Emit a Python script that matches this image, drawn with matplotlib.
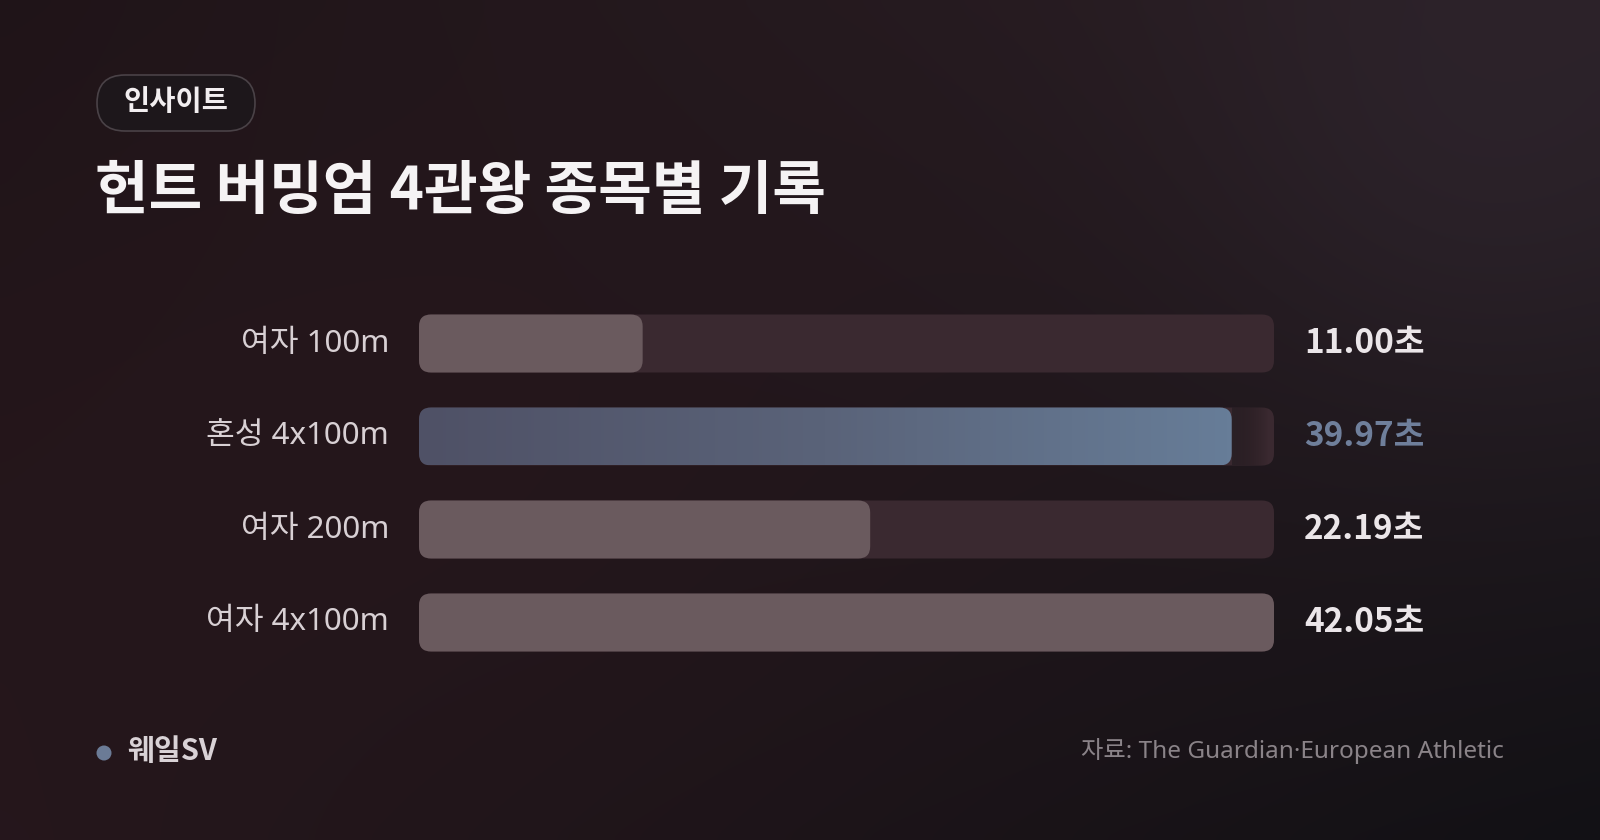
import numpy as np
import matplotlib
matplotlib.use("Agg")
import matplotlib.pyplot as plt
from matplotlib.patches import FancyBboxPatch, Circle
from matplotlib.colors import LinearSegmentedColormap, to_rgb

plt.rcParams['font.family'] = ['Noto Sans CJK KR', 'DejaVu Sans']

# ---- data ----
categories = ["여자 100m", "혼성 4x100m", "여자 200m", "여자 4x100m"]
times = [11.00, 39.97, 22.19, 42.05]
highlight = [False, True, False, False]
value_labels = [f"{t:.2f}초" for t in times]
badge_text = "인사이트"
title_text = "헌트 버밍엄 4관왕 종목별 기록"
brand_text = "웨일SV"
source_text = "자료: The Guardian·European Athletic"

W, H = 1600, 840
fig = plt.figure(figsize=(16, 8.4), dpi=100)

# ---- background gradient ----
bg = fig.add_axes([0, 0, 1, 1])
bg.set_axis_off()
ny, nx = 84, 160
yy, xx = np.mgrid[0:ny, 0:nx]
xn = xx / (nx - 1)
yn = yy / (ny - 1)  # 0 top
tl = np.array(to_rgb("#1f1418"))
tr = np.array(to_rgb("#2a1f25"))
bl = np.array(to_rgb("#25171c"))
br = np.array(to_rgb("#121115"))
img = (tl * ((1 - xn) * (1 - yn))[..., None] + tr * (xn * (1 - yn))[..., None]
       + bl * ((1 - xn) * yn)[..., None] + br * (xn * yn)[..., None])
d = np.sqrt(((xn - 0.93) * 1.9) ** 2 + ((yn - 0.13) * 1.0) ** 2)
glow = np.exp(-(d / 0.35) ** 2)[..., None]
img = img * (1 - 0.55 * glow) + np.array(to_rgb("#302730")) * 0.55 * glow
d2 = np.sqrt(((xn - 0.25) * 1.2) ** 2 + ((yn - 0.55) * 1.0) ** 2)
warm = np.exp(-(d2 / 0.45) ** 2)[..., None]
img = img * (1 - 0.4 * warm) + np.array(to_rgb("#2a171d")) * 0.4 * warm
bg.imshow(img, extent=[0, 1, 0, 1], aspect='auto', interpolation='bicubic')
bg.set_xlim(0, 1)
bg.set_ylim(0, 1)

# ---- overlay axes in pixel coords for texts ----
ov = fig.add_axes([0, 0, 1, 1], facecolor='none')
ov.set_axis_off()
ov.set_xlim(0, W)
ov.set_ylim(H, 0)

badge = FancyBboxPatch((97, 75), 158, 56, boxstyle="round,pad=0,rounding_size=28",
                       facecolor="#1d171b", edgecolor="#4a4247", linewidth=1.2)
ov.add_patch(badge)
ov.text(176, 102, badge_text, ha='center', va='center', fontsize=20.5,
        fontweight='bold', color="#f2eef0")

ov.text(95, 192, title_text, ha='left', va='center', fontsize=42,
        fontweight='heavy', color="#f5f3f4")

ov.add_patch(Circle((104, 753), 7.5, facecolor="#6b7b96", edgecolor='none'))
ov.text(127, 751, brand_text, ha='left', va='center', fontsize=21,
        fontweight='bold', color="#d9d2d6")
ov.text(1504, 751, source_text, ha='right', va='center', fontsize=17.5,
        color="#8a8388", family=['Noto Sans', 'Noto Sans CJK KR'])

# ---- bar chart axes ----
x0_px, x1_px = 419, 1274
top_px, bot_px = 298, 668
ax = fig.add_axes([x0_px / W, 1 - bot_px / H, (x1_px - x0_px) / W, (bot_px - top_px) / H],
                  facecolor='none')
ax.set_axis_off()
xmax = max(times)
ax.set_xlim(0, xmax)
n = len(categories)
half = (bot_px - top_px) / 93 / 2
ax.set_ylim(n - 1 + half - 1.5, -(half - 1.5))

bar_h = 58 / 93.0
ax_w_px = x1_px - x0_px
ax_h_px = bot_px - top_px
x_per_px = xmax / ax_w_px
y_per_px = (abs(ax.get_ylim()[0] - ax.get_ylim()[1])) / ax_h_px
aspect = y_per_px / x_per_px
r = 12 * x_per_px

track_col = "#3a2930"
fill_col = "#6a5a5e"
hl_cmap = LinearSegmentedColormap.from_list("hl", ["#4f5166", "#5a6379", "#677d98"])

ys = np.arange(n)
for i, (cat, t, hl, lab) in enumerate(zip(categories, times, highlight, value_labels)):
    y = ys[i]
    tr_patch = FancyBboxPatch((0, y - bar_h / 2), xmax, bar_h,
                              boxstyle=f"round,pad=0,rounding_size={r}",
                              mutation_aspect=aspect, facecolor=track_col,
                              edgecolor='none', zorder=1)
    ax.add_patch(tr_patch)
    if hl:
        p = FancyBboxPatch((0, y - bar_h / 2), t, bar_h,
                           boxstyle=f"round,pad=0,rounding_size={r}",
                           mutation_aspect=aspect, facecolor='none',
                           edgecolor='none', zorder=2)
        ax.add_patch(p)
        grad = np.linspace(0, 1, 256)[None, :]
        im = ax.imshow(grad, cmap=hl_cmap, extent=[0, t, y + bar_h / 2, y - bar_h / 2],
                       aspect='auto', zorder=2, interpolation='bilinear')
        im.set_clip_path(p)
        sh = np.linspace(1, 0, 64)[None, :]
        shc = LinearSegmentedColormap.from_list("sh", [(0, 0, 0, 0), (0.12, 0.1, 0.12, 0.55)])
        im2 = ax.imshow(sh, cmap=shc, extent=[t, t + 1.8, y + bar_h / 2, y - bar_h / 2],
                        aspect='auto', zorder=1.5, interpolation='bilinear')
        im2.set_clip_path(tr_patch)
        val_col = "#6f7f9b"
    else:
        p = FancyBboxPatch((0, y - bar_h / 2), t, bar_h,
                           boxstyle=f"round,pad=0,rounding_size={r}",
                           mutation_aspect=aspect, facecolor=fill_col,
                           edgecolor='none', zorder=2)
        ax.add_patch(p)
        val_col = "#ebe6e9"
    ax.annotate(cat, xy=(0, y), xytext=(-30, 0), textcoords='offset pixels',
                ha='right', va='center', fontsize=22.5, color="#d8d0d4",
                family=['Noto Sans', 'Noto Sans CJK KR'])
    ax.annotate(lab, xy=(xmax, y), xytext=(30, 0), textcoords='offset pixels',
                ha='left', va='center', fontsize=24, fontweight='bold', color=val_col)

fig.savefig("out.png", dpi=100, facecolor=fig.get_facecolor())
